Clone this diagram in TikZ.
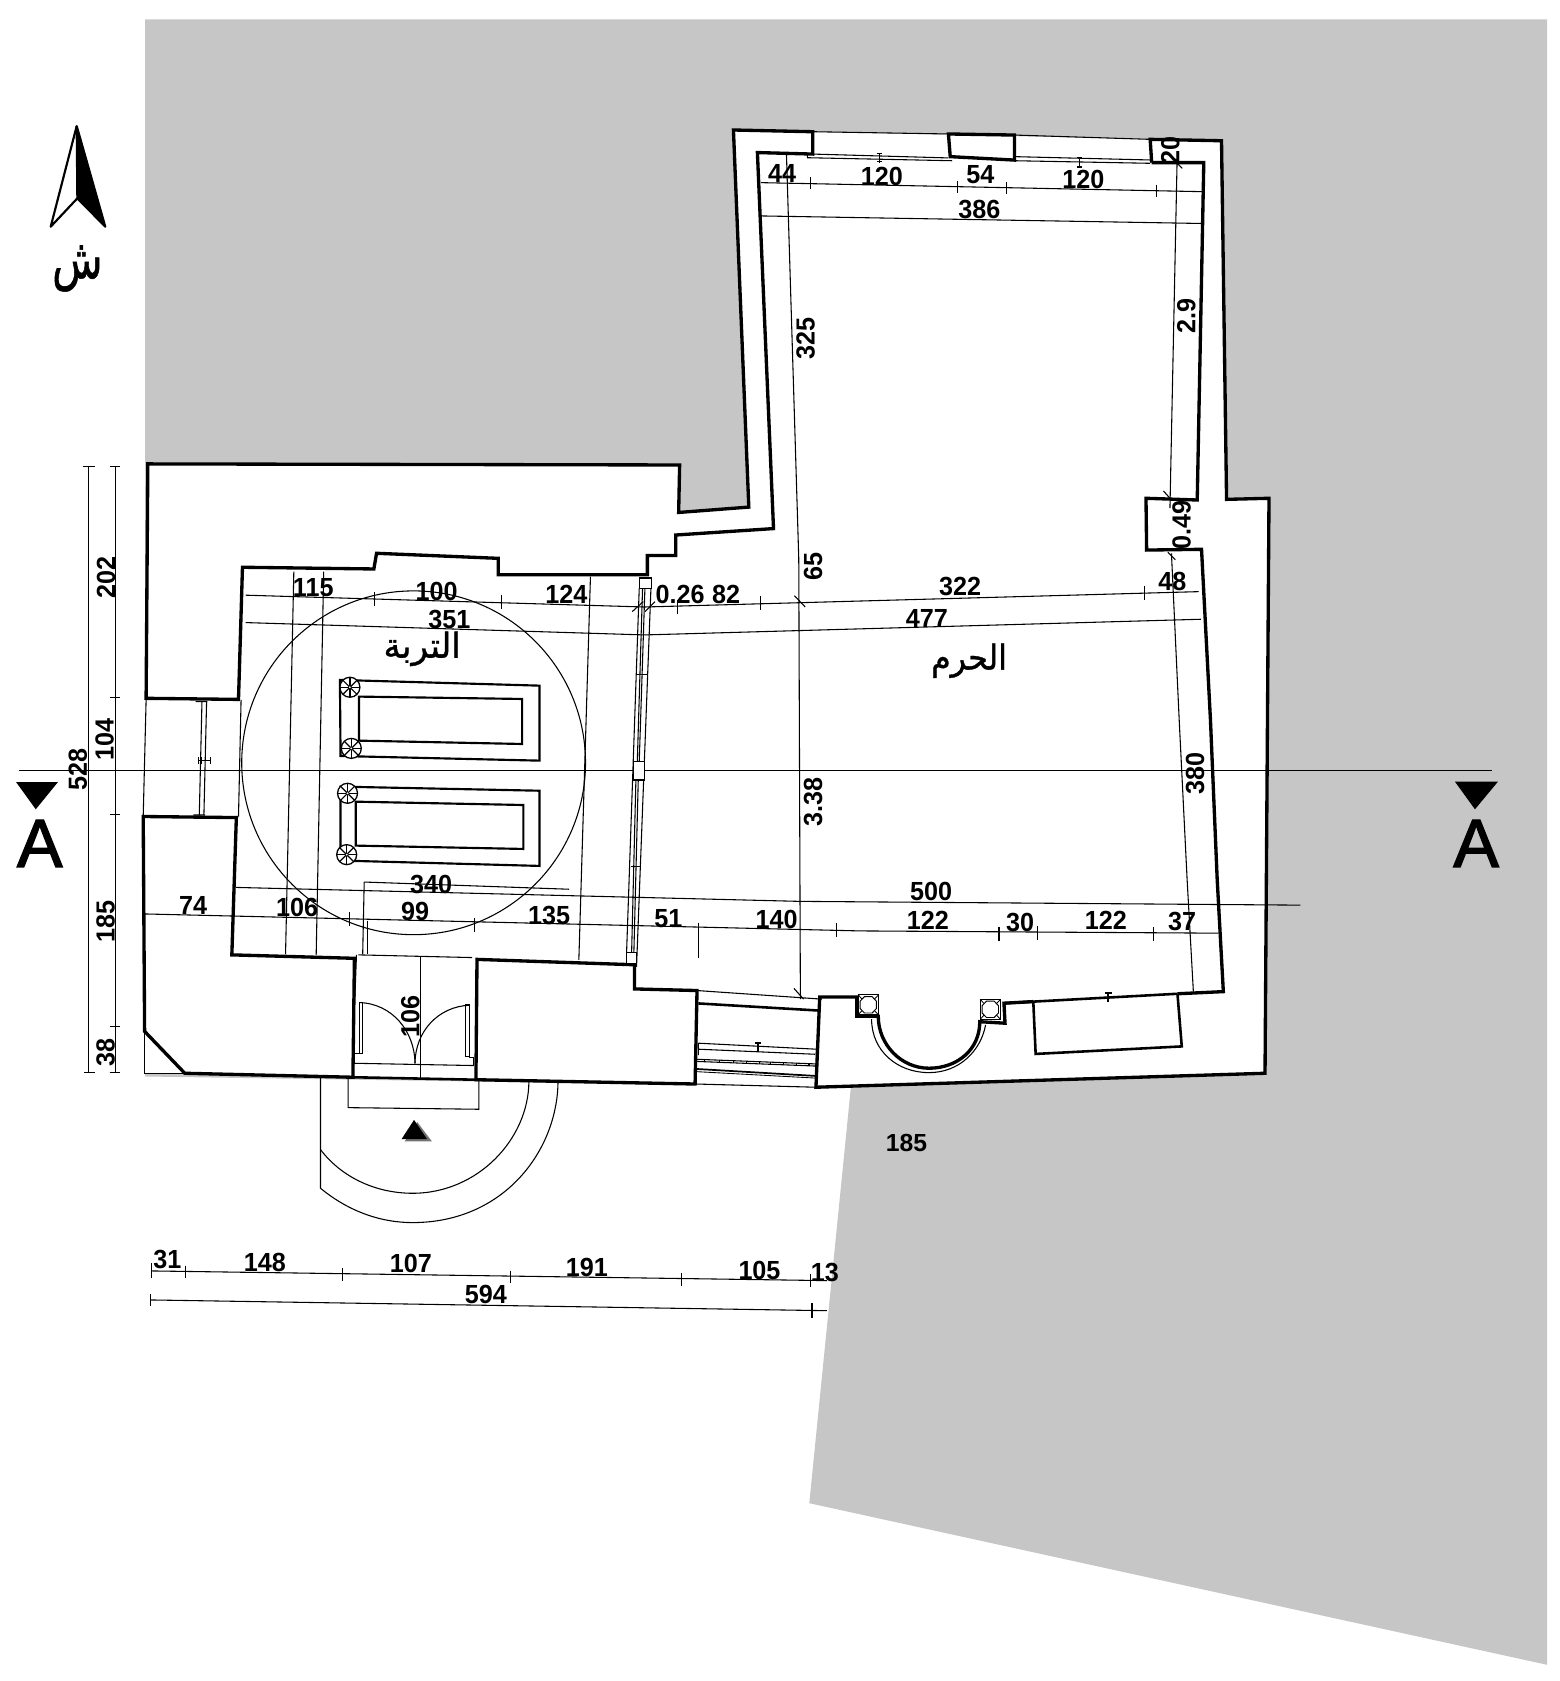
\documentclass[tikz,border=0pt]{standalone}
\usepackage{fontspec}
\TeXXeTstate=1
\newfontfamily\dimfont[FakeStretch=0.96]{Liberation Sans}
\newfontfamily\plainfont[FakeBold=2]{Liberation Sans}
\newfontfamily\freefont{Liberation Sans}
\newfontfamily\arabicfont[Script=Arabic,FakeBold=1]{DejaVu Sans}
\definecolor{sitegray}{HTML}{C6C6C6}
\tikzset{
  wall/.style={line width=1.55pt,line join=miter,black},
  midwall/.style={line width=1.2pt,black},
  thin/.style={line width=0.5pt,black},
  dimlab/.style={font=\dimfont\bfseries\fontsize{12.2}{12.2}\selectfont,inner sep=0pt,text=black},
  arlab/.style={inner sep=0pt,text=black},
}
\newcommand{\rosette}[2]{%
  \draw[line width=0.6pt,fill=white] (#1,#2) circle (9.3);
  \foreach \a in {0,45,...,135}{\draw[line width=0.55pt] (#1,#2) ++(\a:9.3) -- ++(\a+180:18.6);}
  \fill[white] (#1,#2) circle (1.6);\draw[line width=0.3pt] (#1,#2) circle (1.6);
}
\newcommand{\colbox}[2]{%
  \draw[line width=0.5pt,fill=white] (#1-9.5,#2-9.3) rectangle (#1+9.5,#2+9.3);
  \draw[line width=0.45pt] (#1-3.6,#2-7.6)--(#1+3.6,#2-7.6)--(#1+7.6,#2-3.4)--(#1+7.6,#2+3.4)--(#1+3.6,#2+7.6)--(#1-3.6,#2+7.6)--(#1-7.6,#2+3.4)--(#1-7.6,#2-3.4)--cycle;
  \draw[line width=0.4pt] (#1-9.5,#2-9.3)--(#1-6,#2-5.6) (#1+9.5,#2-9.3)--(#1+6,#2-5.6) (#1-9.5,#2+9.3)--(#1-6,#2+5.6) (#1+9.5,#2+9.3)--(#1+6,#2+5.6);
}
\begin{document}
\begin{tikzpicture}[x=0.5pt,y=-0.5pt]
\useasboundingbox (0,0) rectangle (1452,1564.7);
% site
\fill[sitegray] (135,18)--(1440,18)--(1440,1549.6)--(753.3,1399.2)--(792,1012)--(135,1002)--cycle;
\fill[white] (137.6,431.8)--(632.6,432.8)--(631.7,477)--(697,472)--(682.7,121)--(1137,131)--(1141.7,464.8)--(1181.2,463.8)--(1177.5,999)--(759.5,1012)--(134.6,999)--(133.3,760)--cycle;
% thin construction / dimension lines
\draw[thin] (385,710) circle (160);
\draw[thin] (18,717.6)--(1388.4,717.6);
\draw[thin] (273.5,532)--(265.8,888);
\draw[thin] (301.3,532)--(294.3,889);
\draw[thin] (549.6,536.7)--(538.8,893.5);
\draw[thin] (228.7,554)--(600,565)--(1115.8,550.7);
\draw[thin] (228.7,579.5)--(600,591)--(1117.8,576.4);
\draw[thin] (219.4,826)--(744.6,839)--(1210.3,842.5);
\draw[thin] (339,821)--(529.7,827.7);
\draw[thin] (339,821)--(337.6,888);
\draw[thin] (342.5,857)--(342.5,888);
\draw[thin] (134.6,850.7)--(800.4,866.5)--(1134,868.6);
\foreach \x/\y in {348.3/557.8,467.1/560,630.3/564.7,708.2/561,1065.4/551.6,325.4/855.6,441.3/861,778.8/865.5,929.9/869.3,965.6/868,1073.5/869.3}
  \draw[thin] (\x,\y-6.5)--(\x,\y+6.5);
\draw[thin] (650.2,858.7)--(650.2,892);
\draw[thin] (588.5,569.3)--(598.7,560) (600.3,569.3)--(609.6,560) (739.5,554.5)--(749.5,565);
% top dimensions
\draw[thin] (708.3,170)--(1118.8,178.4);
\draw[thin] (709.3,201)--(1118.2,208);
\foreach \x/\y in {754.5/170.5,891.1/174,936.7/175,1076.3/178}
  \draw[thin] (\x,\y-5.5)--(\x,\y+5.5);
\draw[thin] (732,142)--(743.5,520)--(745,930);
\draw[thin] (739,920)--(748,930);
\draw[thin] (1095.6,152)--(1089,473);
\draw[thin] (1090.4,515)--(1097.6,670)--(1105,819)--(1110.8,923);
\draw[thin] (1094,150.5)--(1100.5,156.7) (1083,457)--(1089.2,464) (1087,514)--(1094,521);
% left dimensions
\draw[thin] (82.5,434)--(82.5,998);
\draw[thin] (107.2,434)--(107.2,998);
\draw[thin] (77,434)--(88,434) (102,434)--(112,434) (102,649)--(112,649) (102,758.3)--(112,758.3) (102,955.6)--(112,955.6) (102,998)--(112,998) (78,998)--(88,998);
% bottom dimensions
\draw[thin] (141.3,1183)--(769.7,1192);
\draw[thin] (140.4,1210)--(769.7,1220);
\foreach \x/\y in {172.9/1184,318.6/1186,475.2/1188.6,634/1191,754.8/1191.5}
  \draw[thin] (\x,\y-6)--(\x,\y+6);
\draw[thin] (141.3,1176)--(141.3,1190) (140.4,1204)--(140.4,1216) (755.8,1213)--(755.8,1227);
% main walls
\draw[wall] (136,650)--(137.6,431.8)--(632.6,432.8)--(631.7,477)--(697,472)--(682.7,121)--(756.5,122.6)--(756.5,143.4)--(705,142)--(720,492)--(629,498)--(629,517)--(602.6,517)--(602.6,535)--(463.7,535)--(463.7,519.7)--(350.5,515)--(348,529.6)--(225.7,528)--(222,651)--cycle;
\draw[wall] (133.3,760)--(220,761)--(215.8,888.8)--(329.9,892)--(328.5,1002.7)--(172,999)--(134.6,960)--cycle;
\draw[thin] (134.6,960)--(134.6,999)--(172,999);
\draw[midwall] (328.5,1002.7)--(443,1005);
\draw[wall] (444,893)--(590.6,898)--(590.6,920.5)--(648.8,922)--(647,1009)--(443,1005)--cycle;
\draw[wall] (882.8,124.7)--(944.3,125.7)--(944.3,149)--(884.5,145.8)--cycle;
\draw[thin] (756.5,122.6)--(882.8,124.7) (944.3,125.7)--(1070.6,129.7);
\draw[wall] (1072,151.4)--(1070.6,129.7)--(1137,131)--(1141.7,464.8)--(1181.2,463.8)--(1177.5,999)--(759.5,1012)--(763,928)--(797.4,928)--(797.4,946)--(817.5,946)
  .. controls (817.5,972) and (838.5,994.3) .. (864.7,994.3) .. controls (891,994.3) and (912,977) .. (912,951)
  --(935.5,952.4)--(934.5,933.8)--(961.8,932.3);
\draw[midwall] (934.5,933.8)--(1096,925);
\draw[midwall] (961.8,932.3)--(964,981)--(1100,974)--(1096,925);
\draw[wall] (1096,925)--(1138.7,923)--(1133,819)--(1126.7,670)--(1118.4,511.3)--(1067.3,512)--(1066.7,463.8)--(1114.4,465.4)--(1120.5,151.4)--(1072,151.4);
\draw[thin] (811.3,948.7) .. controls (811.3,978) and (835,998.4) .. (864.7,998.4) .. controls (893,998.4) and (913,978) .. (917.4,954);
\colbox{808.2}{935.3}
\colbox{921.8}{939.5}
% alcove marker
\draw[line width=0.9pt] (1031.6,923.5)--(1031.6,933) (1028.5,924)--(1034.7,924);
% top windows
\draw[thin] (751.5,142.7)--(751.5,146.8)--(886.2,149.6);
\draw[thin] (756.5,143.4)--(882.8,147);
\draw[thin] (944.3,145.8)--(1070.6,148.9) (944.3,149.6)--(1070.6,152);
\draw[line width=0.6pt] (818.7,142.7)--(818.7,151.4) (816.5,143)--(821,143) (816.5,150)--(821,150);
\draw[line width=0.6pt] (1005,146)--(1005,156.7) (1002.8,146.4)--(1007.2,146.4) (1002.8,155.5)--(1007.2,155.5);
% west door
\draw[thin] (136,651.5)--(133.3,760) (224.4,651.5)--(222,760);
\draw[line width=0.5pt] (188,653)--(185.5,758.6) (192.3,653)--(189.8,758.6) (182,653)--(193,653) (180,758.6)--(191,758.6);
\draw[line width=0.5pt] (184.6,705)--(184.6,711.5) (195.7,705)--(195.7,711.5) (184.6,708)--(195.7,708) (187.4,705)--(187.4,711.5);
% screen
\draw[thin] (595,547.6)--(583.2,887.4) (605.9,547.6)--(592.5,900);
\draw[thin] (598.1,547.6)--(593.2,709) (600.3,547.6)--(595,709);
\draw[thin] (591.9,726)--(587.9,887.4) (594.1,726)--(590,887.4);
\draw[thin] (592.5,627.6)--(602.8,627.6) (587,806.7)--(596.3,806.7);
\draw[thin,fill=white] (595,538) rectangle (606,547.6);
\draw[thin,fill=white] (589.5,709) rectangle (599.7,726);
\draw[thin,fill=white] (583.3,887) rectangle (592.6,896.6);
% tombs
\draw[line width=1pt] (316.4,632.9)--(502.2,638.2)--(502.2,708)--(317,703.7)--cycle;
\draw[line width=1pt] (334.2,648.4)--(486,650.6)--(486,692.5)--(334.2,689.4)--cycle;
\draw[line width=1pt] (317,732.2)--(502.2,736)--(502.2,806)--(317,801)--cycle;
\draw[line width=1pt] (331.2,746.2)--(487.2,749.3)--(487.2,790.2)--(331.2,787.1)--cycle;
\rosette{325.7}{639.7}
\rosette{327}{696.6}
\rosette{323.5}{738.4}
\rosette{322.7}{795.5}
% south door
\draw[thin] (333.5,888.8)--(439.5,891.3);
\draw[thin] (331.8,888.8)--(330.4,927.6);
\draw[thin] (391.2,890.4)--(391.2,1003.6);
\draw[thin] (330,989.7)--(440.4,991.8);
\draw[thin] (334.4,933.2) rectangle (337.6,981);
\draw[thin] (433.7,935.4) rectangle (436.6,983.5);
\draw[thin] (330.4,980)--(330.4,990) (330.4,981)--(334.4,981) (440.4,984)--(440.4,992) (436.6,984)--(440.4,984);
\draw[thin] (334.4,933.2) .. controls (365,934) and (386,960) .. (386.3,989.7);
\draw[thin] (436.6,935.7) .. controls (408,937) and (386.5,960) .. (386.3,989.7);
% entrance steps
\draw[thin] (324,1003.6)--(324,1031)--(445.8,1032.5)--(445.8,1005);
\draw[thin] (298.3,1003.6)--(298.3,1106) .. controls (325,1128) and (355,1138) .. (384,1138) .. controls (470,1138) and (519,1070) .. (519.4,1006.7);
\draw[thin] (298.3,1070) .. controls (318,1096) and (350,1110.7) .. (384,1110.7) .. controls (445,1110.7) and (492,1060) .. (492.3,1006.7);
\fill[black!55] (388.4,1044.4)--(376.7,1062.4)--(402,1062.4)--cycle;
\fill[black] (385.4,1042.4)--(373.7,1060.4)--(397.6,1060.4)--cycle;
% south-west window
\draw[midwall] (650,934)--(761.6,940.6);
\draw[thin] (648.8,922)--(765,930);
\draw[line width=0.5pt] (650,971)--(760,976.6) (650,976.6)--(758.6,981.3) (650,971)--(650,982) (760,976.6)--(760,986);
\draw[line width=0.5pt] (649,986)--(759.5,990.3) (649,988)--(759.5,992.3);
\foreach \x in {656,670,683,695,707,717,729,741,753} \draw[line width=0.5pt] (\x,\x*0.0389+960.5)--(\x,\x*0.0389+963);
\draw[line width=0.8pt] (648.4,995)--(759.5,1001.5);
\draw[line width=0.4pt] (648.4,997.5)--(759.5,1003.5);
\draw[thin] (647.8,1009)--(759.5,1012);
\draw[line width=1pt] (705.8,971)--(705.8,978.8);
\draw[line width=1pt] (702.8,970.5)--(708.8,970.5);
% north arrow
\fill[black] (71.4,117.3)--(98,211)--(72,184.6)--cycle;
\draw[line width=1pt,line join=round,fill=white] (71.4,117.3)--(47.2,211)--(72,184.6);
\draw[line width=1pt,line join=round] (71.4,117.3)--(98,211)--(72,184.6)--cycle;
\node[arlab,font=\arabicfont\fontsize{24}{24}\selectfont] (north) at (72,250) {\scalebox{0.8}[1.08]{\beginR ش\endR}};
% section marks
\fill[black] (15,728)--(53.9,728)--(33.3,753.3)--cycle;
\fill[black] (1354.3,727.6)--(1394.3,727.6)--(1372.9,753.3)--cycle;
\node[font=\plainfont\fontsize{31.8}{31.8}\selectfont,inner sep=0pt,anchor=base] (secA) at (37,807) {A};
\node[font=\plainfont\fontsize{31.8}{31.8}\selectfont,inner sep=0pt,anchor=base] (secB) at (1374,807) {A};
% room names
\node[arlab,font=\arabicfont\fontsize{16}{16}\selectfont] (turba) at (393,604) {\beginR التربة\endR};
\node[arlab,font=\arabicfont\fontsize{16}{16}\selectfont] (haram) at (902,615) {\scalebox{0.92}[1]{\beginR الحرم\endR}};
% horizontal labels
\foreach \x/\y/\t [count=\i] in {729/162/44,822/165/120,914/163/54,1010/167/120,913/195/386,
  292/548/115,407/552/100,528/554/124,634/555/0.26,677/555/82,895/547/322,1093/542/48,
  419/578/351,864/577/477,402/825/340,868/832/500,180/845/74,277/847/106,387/850/99,512/854/135,
  623/857/51,724/858/140,865/859/122,951/861/30,1031/859/122,1102/860/37,
  156/1175/31,247/1178/148,383/1179/107,547/1182/191,708/1185/105,769/1187/13,453/1208/594}
  \node[dimlab] (h\i) at (\x*0.9985,\y*0.9978) {\t};
% rotated labels
\foreach \x/\y/\t [count=\i] in {99/538.6/202,97.5/690/104,72.5/718/528,98.5/860/185,98.5/982/38,
  382.5/948/106,751/316/325,758/528/65,758/748/3.38,1106/295/2.9,1101.5/490/0.49,1114/722/380,1091/140/20}
  \node[dimlab,rotate=90] (v\i) at (\x*0.9985,\y*0.9978) {\t};
\node[inner sep=0pt,font=\freefont\bfseries\fontsize{11.5}{11.5}\selectfont] (free) at (843.7,1063.7) {185};
\end{tikzpicture}
\end{document}
